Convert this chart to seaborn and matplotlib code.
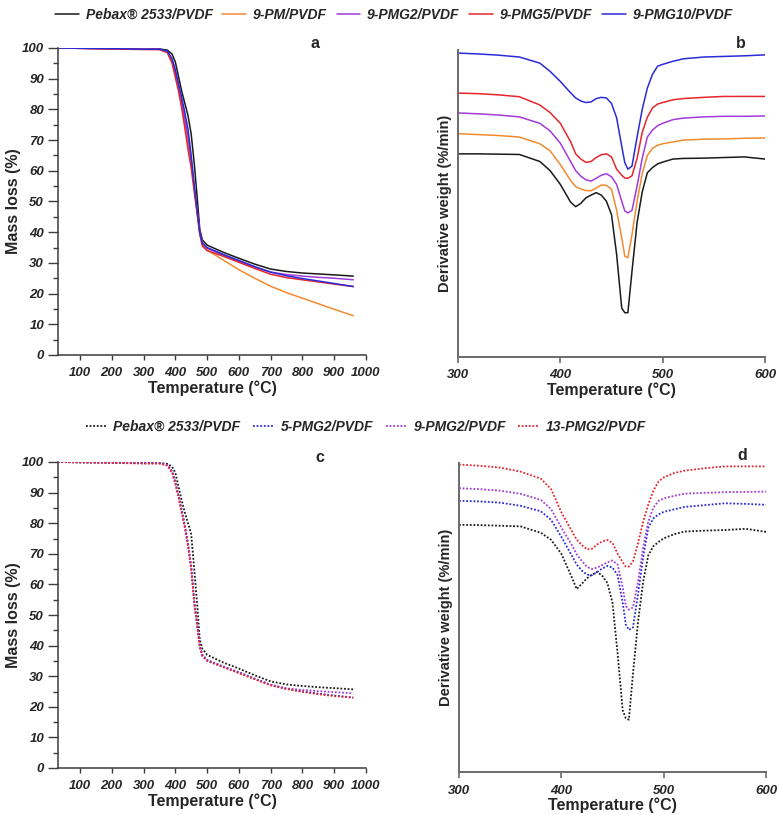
import numpy as np
import pandas as pd
import matplotlib
matplotlib.use("Agg")
import matplotlib.pyplot as plt
from matplotlib.font_manager import FontProperties
import seaborn as sns

# ---- TGA data (mass loss %, panels a and c) ----
tga_temp = [30, 100, 200, 300, 350, 375, 390, 400, 410, 420, 430, 440, 450, 460,
            470, 477, 485, 500, 550, 600, 650, 700, 750, 800, 850, 900, 960]

names_a = ["Pebax® 2533/PVDF", "9-PM/PVDF", "9-PMG2/PVDF", "9-PMG5/PVDF", "9-PMG10/PVDF"]
colors_a = ["#1a1a1a", "#f28a30", "#a23bd8", "#e6262c", "#2b2bd6"]

tga_pebax = [100, 99.9, 99.8, 99.7, 99.7, 99.3, 98.0, 95.5, 90.8, 86.0, 82.0, 78.0, 72.0, 62.0,
             50.0, 41.0, 37.5, 35.8, 33.5, 31.5, 29.6, 28.0, 27.2, 26.7, 26.4, 26.1, 25.7]
tga_9pm = [100, 99.9, 99.8, 99.6, 99.5, 98.6, 95.5, 91.5, 87.0, 81.5, 75.5, 69.0, 62.0, 54.0,
           45.5, 39.5, 36.0, 34.2, 31.0, 27.8, 25.0, 22.4, 20.3, 18.5, 16.7, 14.9, 12.8]
tga_9pmg2 = [100, 99.9, 99.8, 99.6, 99.6, 98.8, 96.0, 92.0, 87.5, 82.5, 77.0, 71.0, 63.5, 54.5,
             46.0, 40.0, 36.5, 34.8, 32.5, 30.5, 28.6, 27.0, 26.2, 25.7, 25.3, 25.0, 24.5]
tga_9pmg5 = [100, 99.9, 99.7, 99.5, 99.5, 98.5, 95.0, 90.5, 86.0, 80.5, 74.0, 67.0, 61.0, 53.0,
             45.0, 39.5, 35.5, 34.0, 32.2, 30.2, 28.2, 26.3, 25.2, 24.5, 23.8, 23.1, 22.3]
tga_9pmg10 = [100, 99.9, 99.8, 99.6, 99.6, 99.0, 96.5, 93.0, 88.5, 84.0, 79.0, 73.5, 65.0, 55.0,
              46.0, 40.0, 36.5, 35.0, 32.8, 30.8, 28.8, 27.0, 25.8, 24.9, 24.1, 23.3, 22.3]

names_c = ["Pebax® 2533/PVDF", "5-PMG2/PVDF", "9-PMG2/PVDF", "13-PMG2/PVDF"]
colors_c = ["#1a1a1a", "#2b2bd6", "#a23bd8", "#e6262c"]

tgc_pebax = [100, 99.9, 99.8, 99.7, 99.7, 99.4, 98.5, 96.5, 92.0, 87.5, 83.5, 80.0, 76.5, 64.5,
             52.0, 42.0, 39.0, 37.0, 34.5, 32.5, 30.3, 28.3, 27.3, 26.8, 26.4, 26.1, 25.7]
tgc_5pmg2 = [100, 99.9, 99.8, 99.6, 99.6, 99.0, 97.0, 93.5, 89.0, 84.5, 79.5, 73.5, 66.0, 54.0,
             46.0, 40.0, 37.0, 35.3, 33.2, 31.3, 29.2, 27.2, 25.9, 25.0, 24.3, 23.7, 23.0]
tgc_9pmg2 = [100, 99.9, 99.8, 99.6, 99.6, 99.0, 96.8, 93.2, 88.8, 84.0, 79.0, 73.0, 65.5, 54.0,
             46.0, 40.0, 37.0, 35.2, 33.1, 31.2, 29.1, 27.2, 26.0, 25.5, 25.1, 24.8, 24.4]
tgc_13pmg2 = [100, 99.9, 99.7, 99.5, 99.5, 98.8, 96.5, 93.0, 88.5, 83.5, 78.5, 72.5, 65.0, 53.5,
              45.5, 39.5, 36.5, 35.0, 33.0, 31.0, 29.0, 27.0, 25.8, 24.9, 24.1, 23.5, 23.0]

# ---- DTG data (arbitrary units, panels b and d) ----
dtg_temp = [300, 320, 340, 360, 380, 390, 400, 410, 415, 420, 425, 430, 435, 440, 445, 450, 455,
            460, 463, 466, 470, 475, 480, 485, 490, 495, 500, 510, 520, 540, 560, 580, 600]

dtb_pebax = [66.5, 66.5, 66.4, 66.3, 64.0, 61.0, 56.5, 50.7, 49.2, 50.3, 52.1, 53.0, 53.8, 53.0, 51.0,
             46.6, 33.6, 16.0, 14.5, 14.5, 28.0, 44.0, 54.0, 60.3, 62.0, 63.2, 63.8, 64.8, 65.0, 65.1,
             65.3, 65.5, 64.8]
dtb_9pm = [73.1, 72.8, 72.5, 72.0, 69.8, 67.5, 63.0, 57.8, 55.8, 55.0, 54.5, 54.4, 55.3, 56.3, 56.2,
           54.9, 48.0, 39.0, 33.0, 32.5, 40.0, 51.0, 60.0, 66.0, 68.3, 69.3, 69.8, 70.4, 71.0, 71.3,
           71.4, 71.6, 71.7]
dtb_9pmg2 = [79.9, 79.6, 79.2, 78.6, 76.5, 74.0, 70.0, 64.0, 61.0, 59.2, 58.0, 57.6, 58.5, 59.5, 60.0,
             59.0, 56.5, 51.0, 47.8, 47.2, 48.0, 56.0, 65.0, 72.0, 74.3, 75.7, 76.5, 77.7, 78.2, 78.6,
             78.8, 78.8, 78.9]
dtb_9pmg5 = [86.4, 86.2, 85.8, 85.2, 82.5, 80.0, 76.5, 70.5, 66.5, 64.8, 63.7, 64.0, 65.3, 66.2, 66.5,
             65.5, 61.5, 59.5, 58.6, 58.5, 59.3, 65.0, 73.5, 78.5, 81.5, 82.8, 83.3, 84.2, 84.6, 85.0,
             85.3, 85.3, 85.3]
dtb_9pmg10 = [99.5, 99.2, 98.8, 98.2, 96.2, 93.5, 90.2, 86.5, 84.8, 83.8, 83.3, 83.5, 84.6, 85.0, 84.8,
              83.0, 78.3, 69.0, 63.6, 61.5, 62.5, 72.0, 81.0, 88.0, 92.5, 95.2, 95.8, 96.8, 97.6, 98.2,
              98.4, 98.6, 98.9]

dtd_pebax = [80.4, 80.3, 80.1, 79.9, 77.8, 75.5, 71.0, 63.5, 59.5, 61.2, 63.0, 64.2, 65.1, 63.8, 61.5,
             55.0, 38.5, 20.0, 17.5, 17.0, 32.0, 49.0, 62.0, 70.5, 73.5, 74.8, 76.0, 77.3, 78.2, 78.5,
             78.7, 79.1, 78.1]
dtd_5pmg2 = [88.2, 88.0, 87.6, 86.6, 84.8, 82.0, 76.5, 70.5, 67.5, 65.5, 64.2, 64.0, 65.0, 66.2, 67.0,
             66.5, 64.0, 55.0, 48.0, 46.2, 47.0, 58.0, 70.0, 79.5, 82.5, 83.8, 84.6, 85.4, 86.2, 86.8,
             87.4, 87.2, 86.9]
dtd_9pmg2 = [92.3, 92.0, 91.5, 90.5, 88.5, 85.5, 79.5, 74.0, 70.8, 68.7, 66.7, 66.0, 66.5, 67.3, 68.2,
             68.8, 67.5, 60.0, 54.0, 52.8, 53.5, 62.0, 73.0, 81.5, 86.0, 88.2, 89.0, 89.8, 90.5, 90.8,
             91.0, 91.1, 91.2]
dtd_13pmg2 = [100.0, 99.6, 99.0, 97.7, 95.4, 92.0, 84.5, 78.5, 75.6, 73.8, 72.4, 72.6, 74.0, 75.0, 75.5,
              74.5, 71.0, 68.2, 66.8, 66.8, 68.5, 74.5, 81.5, 87.0, 91.5, 94.5, 95.8, 97.2, 98.0, 98.8,
              99.4, 99.4, 99.4]

tga_ticks = [100, 200, 300, 400, 500, 600, 700, 800, 900, 1000]
dtg_ticks = [300, 400, 500, 600]


def long_df(temps, names, series):
    return pd.DataFrame({
        "T": np.tile(temps, len(series)),
        "v": np.concatenate(series),
        "sample": np.repeat(names, len(temps)),
    })


sns.set_theme(style="white")
plt.rcParams["font.family"] = ["Liberation Sans", "DejaVu Sans"]

tick_fp = FontProperties(family=["Liberation Sans", "DejaVu Sans"], weight="bold", style="italic", size=9.5)

W, H = 779, 815
fig = plt.figure(figsize=(W / 100, H / 100), dpi=100)


def box(l, t, r, b):
    return [l / W, 1 - b / H, (r - l) / W, (b - t) / H]


ax_a = fig.add_axes(box(58, 48, 366, 355))
ax_b = fig.add_axes(box(458, 50, 765, 357))
ax_c = fig.add_axes(box(58, 462, 366, 768))
ax_d = fig.add_axes(box(459, 463, 766, 772))

dotted = (0, (1, 1))

df_a = long_df(tga_temp, names_a, [tga_pebax, tga_9pm, tga_9pmg2, tga_9pmg5, tga_9pmg10])
df_b = long_df(dtg_temp, names_a, [dtb_pebax, dtb_9pm, dtb_9pmg2, dtb_9pmg5, dtb_9pmg10])
df_c = long_df(tga_temp, names_c, [tgc_pebax, tgc_5pmg2, tgc_9pmg2, tgc_13pmg2])
df_d = long_df(dtg_temp, names_c, [dtd_pebax, dtd_5pmg2, dtd_9pmg2, dtd_13pmg2])

pal_a = dict(zip(names_a, colors_a))
pal_c = dict(zip(names_c, colors_c))

for ax, df, pal, order, ls in [(ax_a, df_a, pal_a, names_a, "-"), (ax_b, df_b, pal_a, names_a, "-"),
                               (ax_c, df_c, pal_c, names_c, dotted), (ax_d, df_d, pal_c, names_c, dotted)]:
    sns.lineplot(data=df, x="T", y="v", hue="sample", hue_order=order, palette=pal, ax=ax,
                 legend=False, estimator=None, sort=False, linewidth=1.1 if ls == "-" else 1.3,
                 linestyle=ls)
    sns.despine(ax=ax)
    ax.set_xlabel("Temperature (°C)", fontsize=11.5, fontweight="bold", labelpad=1)

# TGA panels
for ax in (ax_a, ax_c):
    ax.set_xlim(31, 1000)
    ax.set_ylim(0, 100)
    ax.set_xticks(tga_ticks)
    ax.set_yticks(range(0, 101, 10))
    ax.set_yticks(range(5, 100, 10), minor=True)
    for s in ("left", "bottom"):
        ax.spines[s].set_color("#3c3c3c")
        ax.spines[s].set_linewidth(1.1)
    ax.tick_params(axis="y", which="major", direction="out", length=7, width=1, color="#3c3c3c", pad=3,
                   left=True)
    ax.tick_params(axis="y", which="minor", direction="out", length=3.5, width=1, color="#3c3c3c", left=True)
    ax.tick_params(axis="x", direction="out", length=3.5, width=1, color="#3c3c3c", pad=5, bottom=True)
    for lab in ax.get_xticklabels() + ax.get_yticklabels():
        lab.set_fontproperties(tick_fp)
    ax.set_ylabel("Mass loss (%)", fontsize=11.5, fontweight="bold", labelpad=1)

# DTG panels
for ax in (ax_b, ax_d):
    ax.set_xlim(300, 600)
    ax.set_ylim(0, 100.5)
    ax.set_xticks(dtg_ticks)
    ax.set_yticks([])
    for s in ("left", "bottom"):
        ax.spines[s].set_color("#6a6a6a")
        ax.spines[s].set_linewidth(1.4)
    ax.tick_params(axis="x", direction="out", length=4, width=1.2, color="#6a6a6a", pad=5, bottom=True)
    for lab in ax.get_xticklabels():
        lab.set_fontproperties(tick_fp)
    ax.set_ylabel("Derivative weight (%/min)", fontsize=10.5, fontweight="bold", labelpad=4)

for ax in (ax_a, ax_b, ax_c, ax_d):
    ax.set_facecolor("white")

# panel letters
for x, y, t in [(315, 43, "a"), (741, 43, "b"), (320, 457, "c"), (742, 456, "d")]:
    fig.text(x / W, 1 - y / H, t, fontsize=11.5, fontweight="bold", ha="center", va="center")

# legends
leg_fp1 = FontProperties(family=["Liberation Sans", "DejaVu Sans"], weight="bold", style="italic", size=10)
leg_fp2 = FontProperties(family=["Liberation Sans", "DejaVu Sans"], weight="bold", style="italic", size=10)
fig.legend(handles=ax_a.get_lines()[:5], labels=names_a, loc="center", bbox_to_anchor=(394 / W, 1 - 15 / H),
           ncol=5, frameon=False, prop=leg_fp1, handlelength=1.7, handletextpad=0.5, columnspacing=0.7)
fig.legend(handles=ax_c.get_lines()[:4], labels=names_c, loc="center", bbox_to_anchor=(366 / W, 1 - 427 / H),
           ncol=4, frameon=False, prop=leg_fp2, handlelength=1.5, handletextpad=0.5, columnspacing=0.9)

fig.savefig("out.png", dpi=100, facecolor="white")
